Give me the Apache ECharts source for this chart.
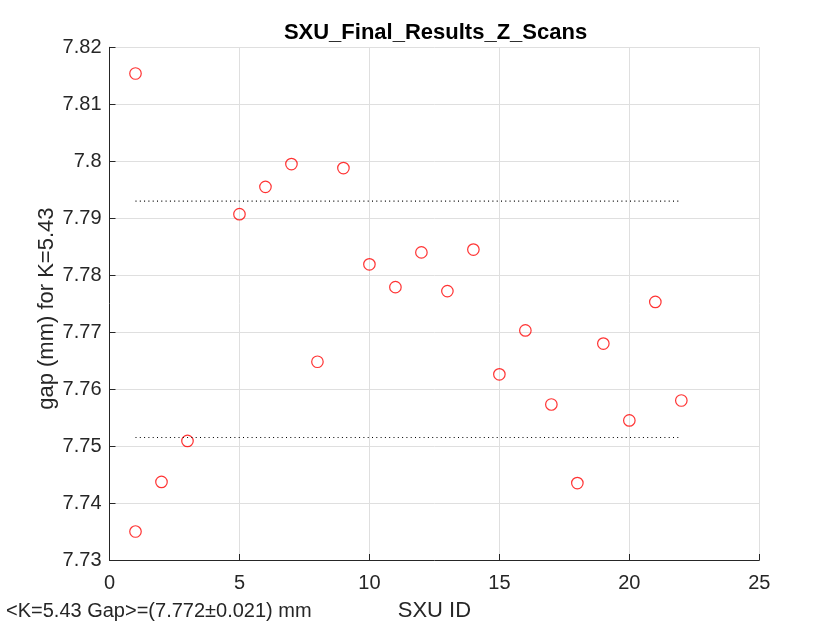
<!DOCTYPE html>
<html>
<head>
<meta charset="utf-8">
<script src="https://cdn.jsdelivr.net/npm/echarts@6/dist/echarts.min.js"></script>
<style>
  html, body { margin: 0; padding: 0; background: #fff; }
  #chart { width: 840px; height: 630px; }
</style>
</head>
<body>
<div id="chart"></div>
<script>
// ---- data ----
const chartTitle = 'SXU_Final_Results_Z_Scans';
const xAxisName = 'SXU ID';
const yAxisName = 'gap (mm) for K=5.43';
const summaryText = '<K=5.43 Gap>=(7.772\u00b10.021) mm';

const sxuIds = [1, 1, 2, 3, 5, 6, 7, 8, 9, 10, 11, 12, 13, 14, 15, 16, 17, 18, 19, 20, 21, 22];
const gapValues = [7.8154, 7.7350, 7.7437, 7.7509, 7.7907, 7.7955, 7.7995, 7.7648, 7.7988, 7.7819,
                   7.7779, 7.7840, 7.7772, 7.7845, 7.7626, 7.7703, 7.7573, 7.7435, 7.7680, 7.7545,
                   7.7753, 7.7580];

const bandX = [1, 22];
const bandUpper = [7.7930, 7.7930];
const bandLower = [7.7515, 7.7515];

const xTicks = { min: 0, max: 25, interval: 5 };
const yTicks = { min: 7.73, max: 7.82, interval: 0.01 };

// ---- chart ----
const FONT = '"Liberation Sans", Arial, Helvetica, sans-serif';
const AX = '#262626';
const chart = echarts.init(document.getElementById('chart'), null, { renderer: 'canvas' });

const option = {
  backgroundColor: '#ffffff',
  animation: false,
  title: {
    text: chartTitle,
    left: 430.5,
    top: 17,
    textAlign: 'center',
    textStyle: { fontFamily: FONT, fontSize: 22, fontWeight: 'bold', color: '#000' }
  },
  grid: {
    left: 109.5, right: 80.7, top: 47.3, bottom: 70,
    containLabel: false,
    outerBoundsMode: 'none'
  },
  xAxis: {
    type: 'value',
    min: xTicks.min, max: xTicks.max, interval: xTicks.interval,
    name: xAxisName,
    nameLocation: 'middle',
    nameGap: 40,
    nameMoveOverlap: false,
    nameTextStyle: { fontFamily: FONT, fontSize: 22, color: AX },
    axisLine: { show: true, onZero: false, lineStyle: { color: AX, width: 1 } },
    axisTick: { show: true, inside: true, length: 6, lineStyle: { color: AX, width: 1 } },
    axisLabel: { margin: 13, fontFamily: FONT, fontSize: 20, color: AX },
    splitLine: { show: true, lineStyle: { color: '#dfdfdf', width: 1 } }
  },
  yAxis: {
    type: 'value',
    min: yTicks.min, max: yTicks.max, interval: yTicks.interval,
    name: yAxisName,
    nameLocation: 'middle',
    nameRotate: 90,
    nameGap: 52,
    nameMoveOverlap: false,
    nameTextStyle: { fontFamily: FONT, fontSize: 22, color: AX, padding: [0, 10, 0, 0] },
    axisLine: { show: true, onZero: false, lineStyle: { color: AX, width: 1 } },
    axisTick: { show: true, inside: true, length: 6, lineStyle: { color: AX, width: 1 } },
    axisLabel: {
      margin: 8, fontFamily: FONT, fontSize: 20, color: AX,
      formatter: v => String(parseFloat(Number(v).toFixed(4)))
    },
    splitLine: { show: true, lineStyle: { color: '#dfdfdf', width: 1 } }
  },
  graphic: [{
    type: 'text',
    left: 6,
    top: 601,
    style: { text: summaryText, font: '20px ' + FONT, fill: AX }
  }],
  series: [
    {
      name: 'upper',
      type: 'line',
      data: bandX.map((x, i) => [x, bandUpper[i]]),
      symbol: 'none',
      silent: true,
      lineStyle: { color: '#000', width: 1.2, type: [1, 3.3] }
    },
    {
      name: 'lower',
      type: 'line',
      data: bandX.map((x, i) => [x, bandLower[i]]),
      symbol: 'none',
      silent: true,
      lineStyle: { color: '#000', width: 1.2, type: [1, 3.3] }
    },
    {
      name: 'gap',
      type: 'scatter',
      data: sxuIds.map((x, i) => [x, gapValues[i]]),
      symbol: 'circle',
      symbolSize: 11.5,
      itemStyle: { color: 'rgba(0,0,0,0)', borderColor: '#ff0000', borderWidth: 1.2 }
    }
  ]
};
chart.setOption(option);
</script>
</body>
</html>
